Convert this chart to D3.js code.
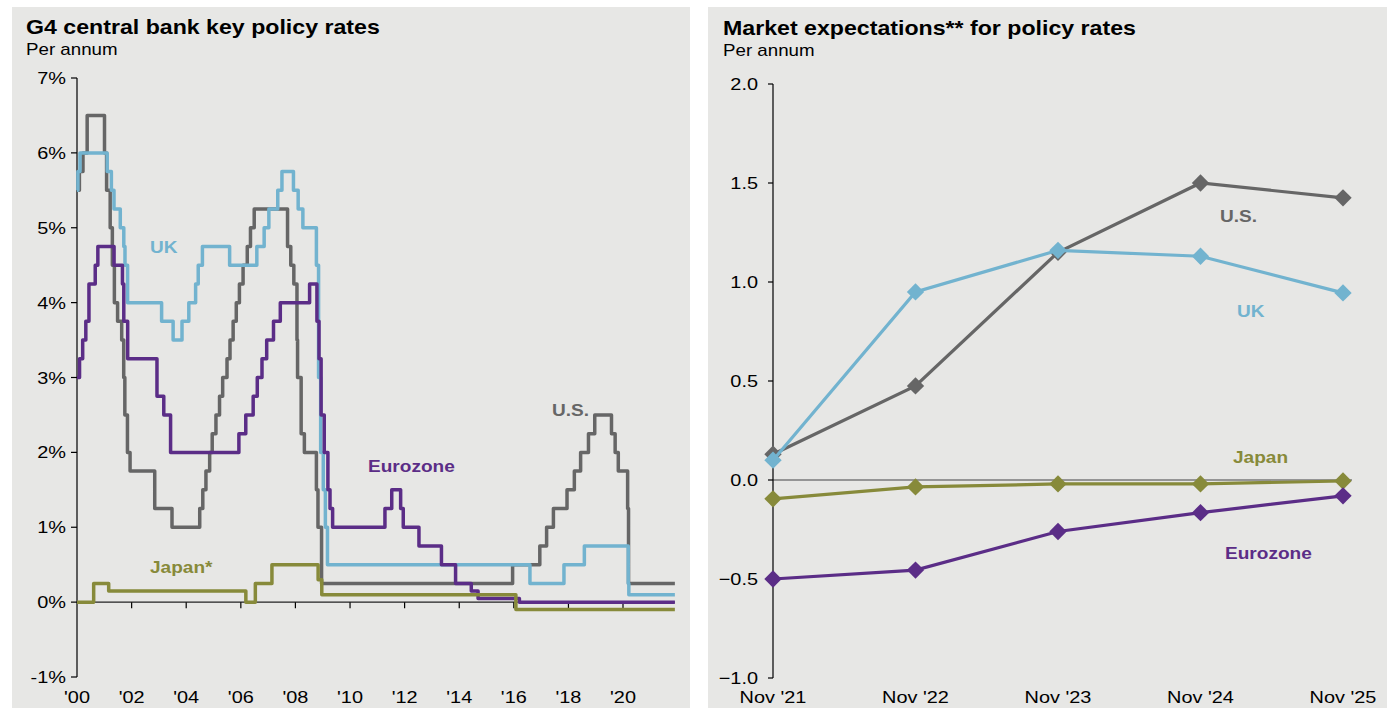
<!DOCTYPE html>
<html>
<head>
<meta charset="utf-8">
<script src="https://cdn.jsdelivr.net/npm/d3@7"></script>
<style>
  body { margin: 0; background: #fff; }
  svg { display: block; font-family: Arial, "Liberation Sans", sans-serif; }
</style>
</head>
<body>
<svg id="chart" width="1393" height="708"></svg>
<script>
// ---- left panel: policy rate changes [date, rate %] ----
var usRates = [["2000-01-01",5.5],["2000-02-02",5.75],["2000-03-21",6.0],["2000-05-16",6.5],["2001-01-03",6.0],["2001-01-31",5.5],["2001-03-20",5.0],["2001-04-18",4.5],["2001-05-15",4.0],["2001-06-27",3.75],["2001-08-21",3.5],["2001-09-17",3.0],["2001-10-02",2.5],["2001-11-06",2.0],["2001-12-11",1.75],["2002-11-06",1.25],["2003-06-25",1.0],["2004-06-30",1.25],["2004-08-10",1.5],["2004-09-21",1.75],["2004-11-10",2.0],["2004-12-14",2.25],["2005-02-02",2.5],["2005-03-22",2.75],["2005-05-03",3.0],["2005-06-30",3.25],["2005-08-09",3.5],["2005-09-20",3.75],["2005-11-01",4.0],["2005-12-13",4.25],["2006-01-31",4.5],["2006-03-28",4.75],["2006-05-10",5.0],["2006-06-29",5.25],["2007-09-18",4.75],["2007-10-31",4.5],["2007-12-11",4.25],["2008-01-22",3.5],["2008-01-30",3.0],["2008-03-18",2.25],["2008-04-30",2.0],["2008-10-08",1.5],["2008-10-29",1.0],["2008-12-16",0.25],["2015-12-16",0.5],["2016-12-14",0.75],["2017-03-15",1.0],["2017-06-14",1.25],["2017-12-13",1.5],["2018-03-21",1.75],["2018-06-13",2.0],["2018-09-26",2.25],["2018-12-19",2.5],["2019-07-31",2.25],["2019-09-18",2.0],["2019-10-30",1.75],["2020-03-03",1.25],["2020-03-15",0.25]];
var ukRates = [["2000-01-01",5.5],["2000-01-13",5.75],["2000-02-10",6.0],["2001-02-08",5.75],["2001-04-05",5.5],["2001-05-10",5.25],["2001-08-02",5.0],["2001-09-18",4.75],["2001-10-04",4.5],["2001-11-08",4.0],["2003-02-06",3.75],["2003-07-10",3.5],["2003-11-06",3.75],["2004-02-05",4.0],["2004-05-06",4.25],["2004-06-10",4.5],["2004-08-05",4.75],["2005-08-04",4.5],["2006-08-03",4.75],["2006-11-09",5.0],["2007-01-11",5.25],["2007-05-10",5.5],["2007-07-05",5.75],["2007-12-06",5.5],["2008-02-07",5.25],["2008-04-10",5.0],["2008-10-08",4.5],["2008-11-06",3.0],["2008-12-04",2.0],["2009-01-08",1.5],["2009-02-05",1.0],["2009-03-05",0.5],["2016-08-04",0.25],["2017-11-02",0.5],["2018-08-02",0.75],["2020-03-11",0.25],["2020-03-19",0.1]];
var euRates = [["2000-01-01",3.0],["2000-02-04",3.25],["2000-03-17",3.5],["2000-04-28",3.75],["2000-06-09",4.25],["2000-09-01",4.5],["2000-10-06",4.75],["2001-05-11",4.5],["2001-08-31",4.25],["2001-09-18",3.75],["2001-11-09",3.25],["2002-12-06",2.75],["2003-03-07",2.5],["2003-06-06",2.0],["2005-12-06",2.25],["2006-03-08",2.5],["2006-06-15",2.75],["2006-08-09",3.0],["2006-10-11",3.25],["2006-12-13",3.5],["2007-03-14",3.75],["2007-06-13",4.0],["2008-07-09",4.25],["2008-10-15",3.75],["2008-11-12",3.25],["2008-12-10",2.5],["2009-01-21",2.0],["2009-03-11",1.5],["2009-04-08",1.25],["2009-05-13",1.0],["2011-04-13",1.25],["2011-07-13",1.5],["2011-11-09",1.25],["2011-12-14",1.0],["2012-07-11",0.75],["2013-05-08",0.5],["2013-11-13",0.25],["2014-06-11",0.15],["2014-09-10",0.05],["2016-03-16",0.0]];
var jpRates = [["2000-01-01",0.0],["2000-08-11",0.25],["2001-02-28",0.15],["2006-03-09",0.0],["2006-07-14",0.25],["2007-02-21",0.5],["2008-10-31",0.3],["2008-12-19",0.1],["2016-01-29",-0.1]];
var lastDate = "2021-11-25";
var leftYTicks = [-1, 0, 1, 2, 3, 4, 5, 6, 7];
var leftXTicks = ["2000","2002","2004","2006","2008","2010","2012","2014","2016","2018","2020"];

// ---- right panel: market expectations ----
var expDates = ["Nov '21", "Nov '22", "Nov '23", "Nov '24", "Nov '25"];
var usExp = [0.13, 0.475, 1.15, 1.5, 1.425];
var ukExp = [0.10, 0.95, 1.16, 1.13, 0.945];
var jpExp = [-0.095, -0.035, -0.02, -0.02, -0.005];
var euExp = [-0.5, -0.455, -0.26, -0.165, -0.08];
var rightYTicks = [-1.0, -0.5, 0.0, 0.5, 1.0, 1.5, 2.0];

var colors = { us: "#666666", uk: "#72b3cf", eu: "#5b2d87", jp: "#878a3a" };
var stretch = 1.17;

var svg = d3.select("#chart");
var parse = d3.timeParse("%Y-%m-%d");

function label(g, x, y, s, size, opts) {
  opts = opts || {};
  return g.append("text")
    .attr("transform", "translate(" + x + "," + y + ") scale(" + stretch + ",1)")
    .attr("text-anchor", opts.anchor || "start")
    .attr("font-size", size + "px")
    .attr("font-weight", opts.bold ? "bold" : "normal")
    .attr("fill", opts.fill || "#000")
    .text(s);
}

// panels
svg.append("rect").attr("x", 12).attr("y", 7).attr("width", 678).attr("height", 701).attr("fill", "#e7e7e5");
svg.append("rect").attr("x", 708).attr("y", 7).attr("width", 679).attr("height", 701).attr("fill", "#e7e7e5");

// ================= left chart =================
var L = svg.append("g");
label(L, 26, 34, "G4 central bank key policy rates", 19.8, { bold: true });
label(L, 26, 55, "Per annum", 16);

var x = d3.scaleTime().domain([parse("2000-01-01"), parse("2020-01-01")]).range([77, 623]);
var y = d3.scaleLinear().domain([-1, 7]).range([677, 78]);

L.append("line").attr("x1", 77).attr("x2", 77).attr("y1", y(7)).attr("y2", y(-1)).attr("stroke", "#000").attr("stroke-width", 1.2);
L.selectAll(".ytick").data(leftYTicks).enter().append("line")
  .attr("x1", 71).attr("x2", 77).attr("y1", function (d) { return y(d); }).attr("y2", function (d) { return y(d); })
  .attr("stroke", "#000").attr("stroke-width", 1.2);
leftYTicks.forEach(function (d) {
  label(L, 66, y(d) + 6, d + "%", 17, { anchor: "end" });
});

L.append("line").attr("x1", 77).attr("x2", x(parse(lastDate))).attr("y1", y(0)).attr("y2", y(0)).attr("stroke", "#222").attr("stroke-width", 1.2);
L.selectAll(".xtick").data(leftXTicks.slice(1)).enter().append("line")
  .attr("x1", function (d) { return x(parse(d + "-01-01")); }).attr("x2", function (d) { return x(parse(d + "-01-01")); })
  .attr("y1", y(0)).attr("y2", y(0) + 6).attr("stroke", "#000").attr("stroke-width", 1.2);
leftXTicks.forEach(function (d) {
  label(L, x(parse(d + "-01-01")), 703, "'" + d.slice(2), 17, { anchor: "middle" });
});

var step = d3.line()
  .x(function (d) { return x(d[0]); })
  .y(function (d) { return y(d[1]); })
  .curve(d3.curveStepAfter);

function series(arr) {
  var pts = arr.map(function (d) { return [parse(d[0]), d[1]]; });
  pts.push([parse(lastDate), arr[arr.length - 1][1]]);
  return pts;
}

[["us", usRates], ["uk", ukRates], ["eu", euRates], ["jp", jpRates]].forEach(function (s) {
  L.append("path").datum(series(s[1]))
    .attr("d", step)
    .attr("fill", "none")
    .attr("stroke", colors[s[0]])
    .attr("stroke-width", 3.5)
    .attr("stroke-linejoin", "round");
});

label(L, 150, 253, "UK", 16.3, { bold: true, fill: colors.uk });
label(L, 552, 416, "U.S.", 16.3, { bold: true, fill: colors.us });
label(L, 368, 472, "Eurozone", 16.3, { bold: true, fill: colors.eu });
label(L, 150, 573, "Japan*", 16.3, { bold: true, fill: colors.jp });

// ================= right chart =================
var R = svg.append("g");
label(R, 723, 35, "Market expectations** for policy rates", 19.8, { bold: true });
label(R, 723, 56, "Per annum", 16);

var xr = d3.scalePoint().domain(expDates).range([773, 1343]);
var yr = d3.scaleLinear().domain([-1, 2]).range([678, 84]);

R.append("line").attr("x1", 773).attr("x2", 1352).attr("y1", yr(0)).attr("y2", yr(0)).attr("stroke", "#7a7a7a").attr("stroke-width", 1.4);
R.append("line").attr("x1", 773).attr("x2", 773).attr("y1", yr(2)).attr("y2", yr(-1)).attr("stroke", "#000").attr("stroke-width", 1.2);
R.selectAll(".ytick").data(rightYTicks).enter().append("line")
  .attr("x1", 768).attr("x2", 773).attr("y1", function (d) { return yr(d); }).attr("y2", function (d) { return yr(d); })
  .attr("stroke", "#000").attr("stroke-width", 1.2);
rightYTicks.forEach(function (d) {
  label(R, 758, yr(d) + 6, d3.format(".1f")(d), 17, { anchor: "end" });
});
expDates.forEach(function (d) {
  label(R, xr(d), 703, d, 17, { anchor: "middle" });
});

var lineR = d3.line()
  .x(function (d, i) { return xr(expDates[i]); })
  .y(function (d) { return yr(d); });
var diamond = d3.symbol().type(d3.symbolSquare).size(150);

[["us", usExp], ["uk", ukExp], ["jp", jpExp], ["eu", euExp]].forEach(function (s) {
  R.append("path").datum(s[1])
    .attr("d", lineR)
    .attr("fill", "none")
    .attr("stroke", colors[s[0]])
    .attr("stroke-width", 3.2);
  R.selectAll(".pt-" + s[0]).data(s[1]).enter().append("path")
    .attr("d", diamond)
    .attr("transform", function (d, i) { return "translate(" + xr(expDates[i]) + "," + yr(d) + ") rotate(45)"; })
    .attr("fill", colors[s[0]]);
});

label(R, 1220, 222, "U.S.", 16.3, { bold: true, fill: colors.us });
label(R, 1237, 317, "UK", 16.3, { bold: true, fill: colors.uk });
label(R, 1233, 463, "Japan", 16.3, { bold: true, fill: colors.jp });
label(R, 1225, 559, "Eurozone", 16.3, { bold: true, fill: colors.eu });
</script>
</body>
</html>
